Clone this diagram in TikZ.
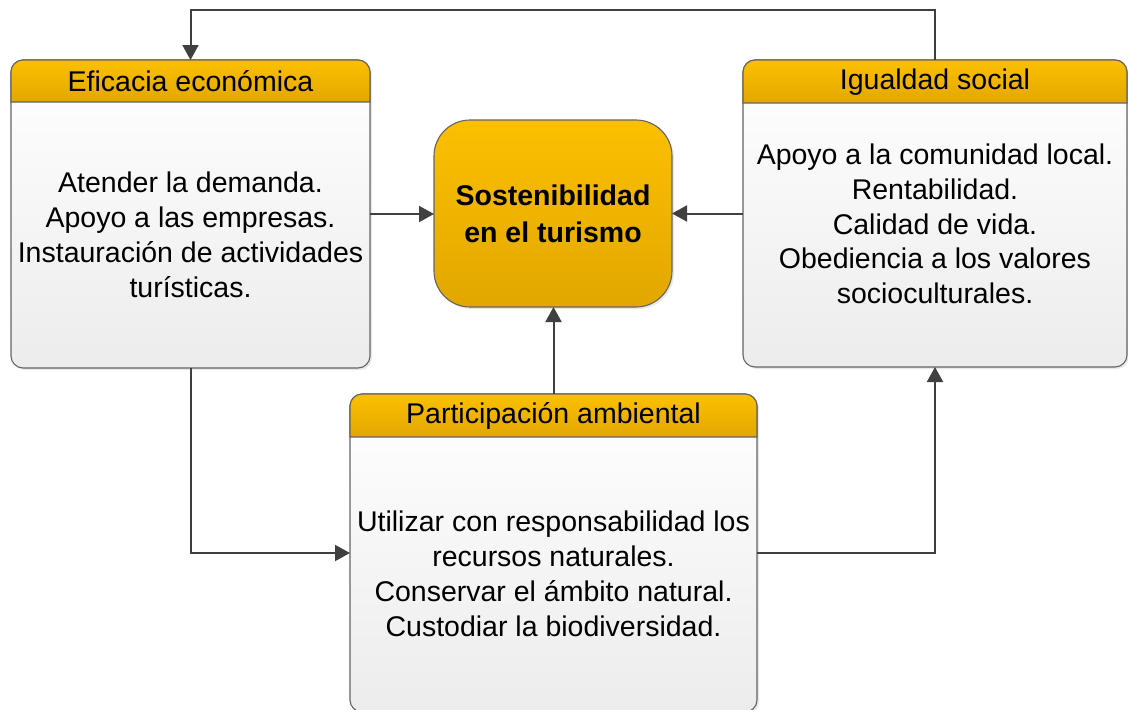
\documentclass[tikz,border=0pt]{standalone}
\usepackage{fontspec}
\setmainfont{Liberation Sans}
\usetikzlibrary{arrows.meta,calc,shadows}
\definecolor{hdrtop}{RGB}{252,192,0}
\definecolor{hdrbot}{RGB}{226,167,0}
\definecolor{bodybot}{RGB}{236,236,236}
\definecolor{bordc}{RGB}{100,100,100}
\definecolor{linec}{RGB}{64,64,64}
\begin{document}
\begin{tikzpicture}[x=1pt,y=-1pt,
  card/.style={draw=bordc, line width=1.1pt, rounded corners=12pt, top color=white, bottom color=bodybot,
    inner sep=0pt, outer sep=0pt, drop shadow={opacity=0.18, shadow xshift=2pt, shadow yshift=-2pt}},
  hdr/.style={draw=bordc, line width=1.1pt, top color=hdrtop, bottom color=hdrbot},
  hdrtxt/.style={font=\fontsize{28.5}{34}\selectfont, inner sep=0pt},
  bodytxt/.style={font=\fontsize{28.5}{34.8}\selectfont, align=center, inner sep=0pt},
  core/.style={draw=bordc, line width=1.1pt, rounded corners=36pt, top color=hdrtop, bottom color=hdrbot,
    inner sep=0pt, outer sep=0pt, align=center, font=\bfseries\fontsize{28.5}{37}\selectfont,
    drop shadow={opacity=0.18, shadow xshift=2pt, shadow yshift=-2pt}},
  conn/.style={draw=linec, line width=2pt, -{Triangle[length=15pt,width=16pt]}}
]
\useasboundingbox (0,0) rectangle (1128,710);

% Eficacia economica
\node[card, minimum width=359pt, minimum height=308pt] (eco) at (190.5,214) {};
\path[hdr] ($(eco.north west)+(0,42)$) [rounded corners=12pt] -- (eco.north west) -- (eco.north east) [sharp corners] -- ($(eco.north east)+(0,42)$) -- cycle;
\node[hdrtxt] (ecoH) at ($(eco.north)+(0,21)$) {Eficacia económica};
\node[bodytxt] (ecoB) at ($(eco.center)+(0,21)$) {Atender la demanda.\\Apoyo a las empresas.\\Instauración de actividades\\turísticas.};

% Igualdad social
\node[card, minimum width=384pt, minimum height=307pt] (soc) at (935,213.5) {};
\path[hdr] ($(soc.north west)+(0,43)$) [rounded corners=12pt] -- (soc.north west) -- (soc.north east) [sharp corners] -- ($(soc.north east)+(0,43)$) -- cycle;
\node[hdrtxt] (socH) at ($(soc.north)+(0,22.5)$) {Igualdad social};
\node[bodytxt] (socB) at ($(soc.center)+(0,10.5)$) {Apoyo a la comunidad local.\\Rentabilidad.\\Calidad de vida.\\Obediencia a los valores\\socioculturales.};

% Participacion ambiental
\node[card, minimum width=407pt, minimum height=318pt] (amb) at (553.5,553) {};
\path[hdr] ($(amb.north west)+(0,43)$) [rounded corners=12pt] -- (amb.north west) -- (amb.north east) [sharp corners] -- ($(amb.north east)+(0,43)$) -- cycle;
\node[hdrtxt] (ambH) at ($(amb.north)+(0,21.5)$) {Participación ambiental};
\node[bodytxt] (ambB) at ($(amb.center)+(0,21)$) {Utilizar con responsabilidad los\\recursos naturales.\\Conservar el ámbito natural.\\Custodiar la biodiversidad.};

% Centro
\node[core, minimum width=238pt, minimum height=187pt] (sost) at (553,213.5) {Sostenibilidad\\en el turismo};

% Conectores
\draw[conn] (soc.north) -- ++(0,-50) -| (eco.north);
\draw[conn] (eco.east) -- (eco.east -| sost.west);
\draw[conn] (soc.west) -- (soc.west -| sost.east);
\draw[conn] (amb.north) -- (amb.north |- sost.south);
\draw[conn] (eco.south) |- (amb.west);
\draw[conn] (amb.east) -| (soc.south);
\end{tikzpicture}
\end{document}
